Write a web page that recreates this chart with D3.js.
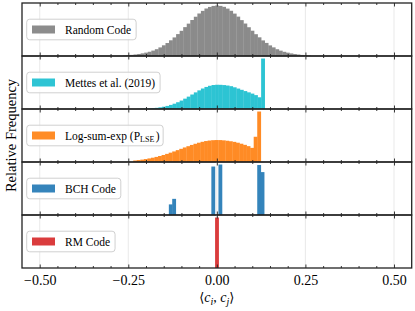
<!DOCTYPE html>
<html>
<head>
<meta charset="utf-8">
<script src="https://cdn.jsdelivr.net/npm/d3@7"></script>
<style>
  body { margin: 0; background: #fff; }
  svg text { font-family: "Liberation Serif", "Times New Roman", Times, serif; fill: #000; }
</style>
</head>
<body>
<div id="chart"></div>
<script>
// ---- data (heights relative to each panel's max) ----
var binWidth = 0.01;

var randomStart = -0.265;   // left edge of first bin
var randomValues = [0.009, 0.016, 0.022, 0.030, 0.040, 0.052, 0.067, 0.084, 0.107, 0.135,
  0.170, 0.212, 0.257, 0.311, 0.368, 0.434, 0.499, 0.572, 0.641, 0.713, 0.778, 0.842,
  0.894, 0.941, 0.972, 0.992, 1.000, 0.993, 0.974, 0.939, 0.896, 0.840, 0.780, 0.711,
  0.643, 0.570, 0.501, 0.432, 0.370, 0.309, 0.259, 0.210, 0.171, 0.134, 0.106, 0.083,
  0.066, 0.051, 0.039, 0.029, 0.021, 0.015, 0.009];

var mettesStart = -0.225;
var mettesValues = [0.003, 0.005, 0.007, 0.011, 0.016, 0.023, 0.033, 0.045, 0.061, 0.081,
  0.105, 0.134, 0.167, 0.205, 0.245, 0.287, 0.329, 0.369, 0.406, 0.437, 0.460, 0.475,
  0.480, 0.479, 0.474, 0.465, 0.452, 0.430, 0.405, 0.380, 0.355, 0.330, 0.305, 0.275,
  0.232, 1.000];

var lseStart = -0.236;
var lseValues = [0.030, 0.038, 0.047, 0.058, 0.071, 0.085, 0.101, 0.119, 0.139, 0.161,
  0.185, 0.209, 0.235, 0.261, 0.288, 0.313, 0.338, 0.361, 0.382, 0.400, 0.415, 0.425,
  0.432, 0.435, 0.434, 0.429, 0.421, 0.411, 0.399, 0.382, 0.362, 0.340, 0.314, 0.280,
  0.500, 1.000];

var bchCenters = [-0.1305, -0.121, -0.0105, 0.0095, 0.119, 0.1285];
var bchValues  = [0.21, 0.32, 0.96, 1.00, 0.99, 0.85];

var rmCenters = [0.0];
var rmValues  = [1.00];

var majorTicks = [-0.5, -0.25, 0, 0.25, 0.5];
var minorTicks = [-0.45, -0.4, -0.35, -0.3, -0.2, -0.15, -0.1, -0.05,
  0.05, 0.1, 0.15, 0.2, 0.3, 0.35, 0.4, 0.45];

function fromStart(start, values) {
  return values.map(function(v, i) {
    return {x0: start + i * binWidth, x1: start + (i + 1) * binWidth, v: v};
  });
}
function fromCenters(centers, values) {
  return values.map(function(v, i) {
    return {x0: centers[i] - binWidth / 2, x1: centers[i] + binWidth / 2, v: v};
  });
}

var panels = [
  {label: "Random Code", color: "#7f7f7f", bars: fromStart(randomStart, randomValues)},
  {label: "Mettes et al. (2019)", color: "#17becf", bars: fromStart(mettesStart, mettesValues)},
  {label: "Log-sum-exp", sub: "LSE", color: "#ff7f0e", bars: fromStart(lseStart, lseValues)},
  {label: "BCH Code", color: "#1f77b4", bars: fromCenters(bchCenters, bchValues)},
  {label: "RM Code", color: "#d62728", bars: fromCenters(rmCenters, rmValues)}
];

var serif = '"Liberation Serif", "Times New Roman", Times, serif';

// ---- layout ----
var W = 415, H = 311;
var margin = {top: 3, right: 3.3, bottom: 43, left: 22};
var plotW = W - margin.left - margin.right;
var panelH = 53;

var svg = d3.select("#chart").append("svg")
  .attr("width", W)
  .attr("height", H)
  .attr("font-family", serif);

var x = d3.scaleLinear()
  .domain([-0.55, 0.55])
  .range([0, plotW]);

panels.forEach(function(p, i) {
  var g = svg.append("g")
    .attr("transform", "translate(" + margin.left + "," + (margin.top + i * panelH) + ")");

  var y = d3.scaleLinear()
    .domain([0, d3.max(p.bars, function(d) { return d.v; }) * 1.05])
    .range([panelH, 0]);

  // grid
  g.selectAll(".grid")
    .data(majorTicks)
    .enter().append("line")
      .attr("x1", function(d) { return x(d); })
      .attr("x2", function(d) { return x(d); })
      .attr("y1", 0)
      .attr("y2", panelH)
      .style("stroke", "#e3e3e3")
      .style("stroke-width", 0.8);

  // bars (group opacity so neighbouring bins don't leave seams)
  g.append("g")
    .style("opacity", 0.9)
    .selectAll("rect")
    .data(p.bars)
    .enter().append("rect")
      .attr("x", function(d) { return x(d.x0); })
      .attr("width", function(d) { return x(d.x1) - x(d.x0) + 0.3; })
      .attr("y", function(d) { return y(d.v); })
      .attr("height", function(d) { return panelH - y(d.v); })
      .style("fill", p.color);

  // inward ticks, top and bottom
  function ticks(axisFn, vals, size, yPos) {
    var a = g.append("g")
      .attr("transform", "translate(0," + yPos + ")")
      .call(axisFn(x).tickValues(vals).tickSize(-size).tickFormat(""));
    a.select(".domain").remove();
    a.selectAll("line").style("stroke", "#222").style("stroke-width", 0.9);
  }
  ticks(d3.axisTop, majorTicks, 3.5, 0);
  ticks(d3.axisTop, minorTicks, 2, 0);
  ticks(d3.axisBottom, majorTicks, 3.5, panelH);
  ticks(d3.axisBottom, minorTicks, 2, panelH);

  // frame
  g.append("rect")
    .attr("x", 0).attr("y", 0)
    .attr("width", plotW).attr("height", panelH)
    .style("fill", "none")
    .style("stroke", "#222")
    .style("stroke-width", 1.3);

  // legend
  var lg = g.append("g").attr("transform", "translate(4.7," + (panelH / 2 - 10.3) + ")");
  var box = lg.append("rect")
    .attr("x", 0).attr("y", 0)
    .attr("height", 20.6)
    .attr("rx", 3)
    .style("fill", "#fff")
    .style("fill-opacity", 0.8)
    .style("stroke", "#d0d0d0")
    .style("stroke-width", 1);
  lg.append("rect")
    .attr("x", 5.3).attr("y", 6.3)
    .attr("width", 23).attr("height", 8)
    .style("fill", p.color)
    .style("opacity", 0.9);
  var t = lg.append("text")
    .attr("x", 38.3)
    .attr("y", 10.3)
    .attr("dy", "0.35em")
    .attr("font-family", serif)
    .style("font-size", "11.5px")
    .text(p.label);
  if (p.sub) {
    t.text(p.label + " (P");
    t.append("tspan").attr("dy", 2.5).style("font-size", "8px").text(p.sub);
    t.append("tspan").attr("dy", -2.5).attr("dx", 1.5).text(")");
  }
  var tw = t.node().getComputedTextLength();
  box.attr("width", 38.3 + tw + 5);

  // x tick labels on the last panel
  if (i === panels.length - 1) {
    var ax = g.append("g")
      .attr("transform", "translate(0," + panelH + ")")
      .call(d3.axisBottom(x).tickValues(majorTicks).tickSize(0).tickPadding(7)
        .tickFormat(d3.format(".2f")));
    ax.select(".domain").remove();
    ax.attr("font-family", serif);
    ax.selectAll("text").style("font-size", "14px");
  }
});

// axis titles
svg.append("text")
  .attr("transform", "translate(11," + (margin.top + panelH * panels.length / 2) + ") rotate(-90)")
  .attr("text-anchor", "middle")
  .attr("dy", "0.35em")
  .style("font-size", "14.5px")
  .text("Relative Frequency");

var xl = svg.append("text")
  .attr("x", margin.left + x(0))
  .attr("y", 302)
  .attr("text-anchor", "middle")
  .style("font-size", "14px");
xl.append("tspan").style("font-family", '"DejaVu Serif", serif').style("font-size", "13px").text("\u27E8");
xl.append("tspan").style("font-style", "italic").text("c");
xl.append("tspan").attr("dy", 3).style("font-style", "italic").style("font-size", "10px").text("i");
xl.append("tspan").attr("dy", -3).text(", ");
xl.append("tspan").style("font-style", "italic").text("c");
xl.append("tspan").attr("dy", 3).style("font-style", "italic").style("font-size", "10px").text("j");
xl.append("tspan").attr("dy", -3).style("font-family", '"DejaVu Serif", serif').style("font-size", "13px").text("\u27E9");
</script>
</body>
</html>
